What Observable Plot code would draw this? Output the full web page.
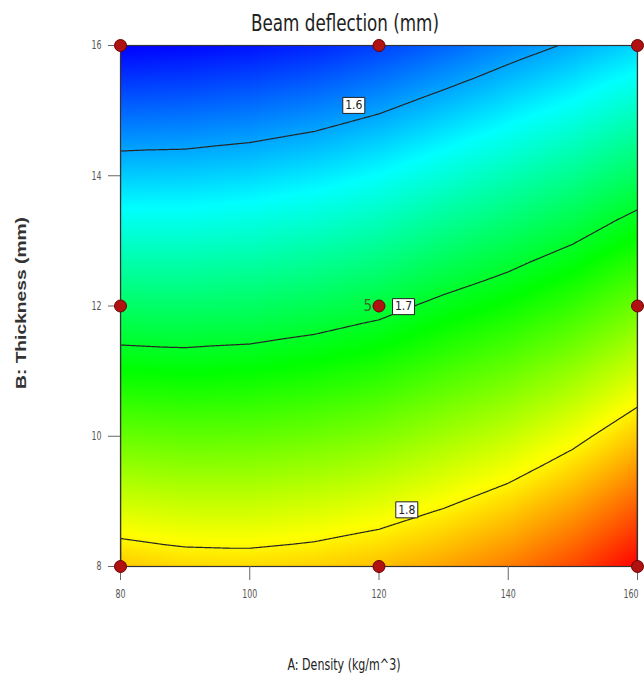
<!DOCTYPE html>
<html>
<head>
<meta charset="utf-8">
<script src="https://cdn.jsdelivr.net/npm/d3@7"></script>
<script src="https://cdn.jsdelivr.net/npm/@observablehq/plot@0.6"></script>
<style>
  html, body { margin: 0; padding: 0; background: #fff; }
  #chart { width: 644px; height: 679px; }
</style>
</head>
<body>
<div id="chart"></div>
<script>
// ---- data ----
const density = [80, 90, 100, 110, 120, 130, 140, 150, 160];      // A: Density (kg/m^3)
const thickness = [8, 9, 10, 11, 12, 13, 14, 15, 16];               // B: Thickness (mm)
// Beam deflection (mm): one row per thickness (8 → 16), one column per density (80 → 160)
const deflection = [
  [1.8145, 1.8098, 1.8089, 1.8119, 1.8177, 1.8271, 1.8394, 1.8571, 1.8809],
  [1.7808, 1.7771, 1.7771, 1.7806, 1.7867, 1.7967, 1.8086, 1.8254, 1.8478],
  [1.7471, 1.7444, 1.7452, 1.7492, 1.7556, 1.7663, 1.7778, 1.7937, 1.8148],
  [1.7135, 1.7118, 1.7134, 1.7179, 1.7245, 1.7359, 1.7471, 1.7619, 1.7818],
  [1.6799, 1.6790, 1.6812, 1.6862, 1.6934, 1.7055, 1.7163, 1.7302, 1.7488],
  [1.6463, 1.6462, 1.6489, 1.6540, 1.6617, 1.6739, 1.6852, 1.6984, 1.7158],
  [1.6127, 1.6134, 1.6165, 1.6219, 1.6301, 1.6420, 1.6538, 1.6665, 1.6827],
  [1.5792, 1.5806, 1.5841, 1.5897, 1.5984, 1.6102, 1.6223, 1.6345, 1.6493],
  [1.5456, 1.5479, 1.5518, 1.5576, 1.5668, 1.5783, 1.5909, 1.6026, 1.6160]
];
const contourLevels = [1.6, 1.7, 1.8];
const contourLabelA = [116.1, 123.8, 124.3];
const contourLabelB = [15.08, 11.99, 8.87];
const designA = [80, 120, 160, 80, 120, 160, 80, 120, 160];
const designB = [8, 8, 8, 12, 12, 12, 16, 16, 16];
const centerReplicates = ["5"];
const xTicks = [80, 100, 120, 140, 160];
const yTicks = [8, 10, 12, 14, 16];
const colorStops = ["#0000ff", "#00ffff", "#00ff00", "#ffff00", "#ff0000"];
const titleText = "Beam deflection (mm)";
const xLabelText = "A: Density (kg/m^3)";
const yLabelText = "B: Thickness (mm)";

// ---- tables for the library ----
const grid = [];
thickness.forEach((b, i) => density.forEach((a, j) => grid.push({A: a, B: b, v: deflection[i][j]})));
const [vmin, vmax] = d3.extent(grid, d => d.v);
const colorDomain = colorStops.map((_, i) => vmin + i * (vmax - vmin) / (colorStops.length - 1));
const labels = contourLevels.map((lv, i) => ({A: contourLabelA[i], B: contourLabelB[i], t: String(lv)}));
const design = designA.map((a, i) => ({A: a, B: designB[i]}));

const narrow = "'Liberation Sans Narrow', 'DejaVu Sans Condensed', 'Arial Narrow', sans-serif";
const boxSymbol = {
  draw(ctx) { ctx.moveTo(-11, -8); ctx.lineTo(11, -8); ctx.lineTo(11, 8); ctx.lineTo(-11, 8); ctx.closePath(); }
};

const chart = Plot.plot({
  width: 644,
  height: 679,
  marginLeft: 120,
  marginRight: 7,
  marginTop: 45,
  marginBottom: 113,
  style: {fontFamily: narrow, fontSize: "11px", background: "#fff", overflow: "visible"},
  x: {domain: [80, 160]},
  y: {domain: [8, 16]},
  color: {type: "linear", domain: colorDomain, range: colorStops},
  marks: [
    Plot.raster(grid, {x: "A", y: "B", fill: "v", interpolate: "barycentric", pixelSize: 1}),
    Plot.contour(grid, {x: "A", y: "B", value: "v", thresholds: contourLevels, interpolate: "barycentric",
      pixelSize: 1, fill: "none", stroke: "#262626", strokeWidth: 1.2, clip: true}),
    Plot.frame({stroke: "#333", strokeWidth: 1.2}),
    Plot.axisX({ticks: xTicks, tickFormat: d => String(d), tickSize: 14, tickPadding: 9, label: null,
      stroke: "#666", fill: "#555", fontSize: 12}),
    Plot.axisY({ticks: yTicks, tickFormat: d => String(d), tickSize: 12, tickPadding: 7, label: null,
      stroke: "#666", fill: "#555", fontSize: 12}),
    Plot.dot(labels, {x: "A", y: "B", symbol: boxSymbol, fill: "#fff", stroke: "#222", strokeWidth: 1}),
    Plot.text(labels, {x: "A", y: "B", text: "t", fill: "#222", fontSize: 12}),
    Plot.dot(design, {x: "A", y: "B", r: 6, fill: "#b01212", stroke: "#6e0000", strokeWidth: 1}),
    Plot.text(centerReplicates, {x: 120, y: 12, text: d => d, dx: -7, textAnchor: "end", fill: "#3f6a2a", fontSize: 15}),
    Plot.text([titleText], {frameAnchor: "top", lineAnchor: "middle", textAnchor: "middle", dx: -34, dy: -22,
      text: d => d, fontSize: 23, fill: "#222"}),
    Plot.text([xLabelText], {frameAnchor: "bottom", lineAnchor: "middle", textAnchor: "middle", dx: -35, dy: 99,
      text: d => d, fontSize: 15, fill: "#222"}),
    Plot.text([yLabelText], {frameAnchor: "left", lineAnchor: "middle", textAnchor: "middle", dx: -99, dy: -3,
      rotate: -90, text: d => d, fontSize: 15, fontWeight: "bold", fill: "#333",
      fontFamily: "'Liberation Sans', Arial, sans-serif"})
  ]
});

// narrow the condensed-looking texts to the widths seen in the reference
const fitWidths = {[titleText]: 188, [xLabelText]: 113, [yLabelText]: 172};
const tickStrings = new Set([...xTicks, ...yTicks].map(String));
chart.querySelectorAll("text").forEach(t => {
  const s = t.textContent.trim();
  if (fitWidths[s]) {
    t.setAttribute("textLength", fitWidths[s]);
    t.setAttribute("lengthAdjust", "spacingAndGlyphs");
  } else if (tickStrings.has(s)) {
    t.setAttribute("textLength", 5 * s.length);
    t.setAttribute("lengthAdjust", "spacingAndGlyphs");
    if (s === String(xTicks[xTicks.length - 1])) {
      // keep the last x tick label inside the picture
      t.setAttribute("text-anchor", "end");
      t.setAttribute("dx", "1");
    }
  }
});
document.getElementById("chart").appendChild(chart);
</script>
</body>
</html>
